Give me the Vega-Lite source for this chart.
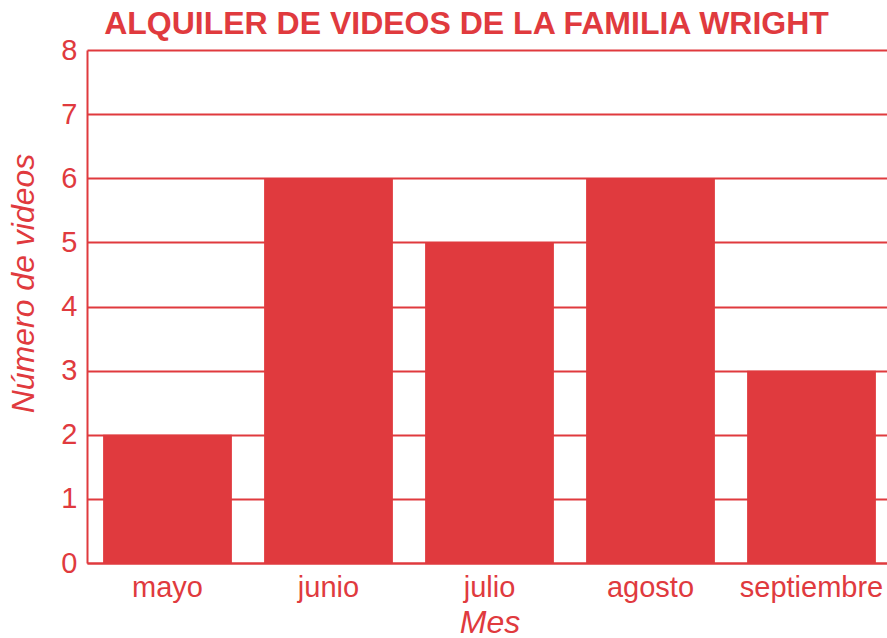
{
  "$schema": "https://vega.github.io/schema/vega-lite/v6.json",
  "autosize": {"type": "none"},
  "width": 805,
  "height": 513,
  "padding": {"left": 87, "top": 50, "right": 0, "bottom": 75},
  "background": "white",
  "title": {
    "text": "ALQUILER DE VIDEOS DE LA FAMILIA WRIGHT",
    "font": "Liberation Sans",
    "fontSize": 32,
    "fontWeight": "bold",
    "color": "#e03a3e",
    "anchor": "middle",
    "dx": -23,
    "offset": -5
  },
  "data": {
    "values": [
      {"mes": "mayo", "videos": 2},
      {"mes": "junio", "videos": 6},
      {"mes": "julio", "videos": 5},
      {"mes": "agosto", "videos": 6},
      {"mes": "septiembre", "videos": 3}
    ]
  },
  "mark": {"type": "bar", "color": "#e03a3e"},
  "encoding": {
    "x": {
      "field": "mes",
      "type": "nominal",
      "sort": null,
      "scale": {"paddingInner": 0.2, "paddingOuter": 0.1},
      "axis": {
        "title": "Mes",
        "titleFont": "Liberation Sans",
        "titleFontSize": 32,
        "titleFontStyle": "italic",
        "titleFontWeight": "normal",
        "titleColor": "#e03a3e",
        "titlePadding": 5,
        "labelFont": "Liberation Sans",
        "labelFontSize": 29,
        "labelColor": "#e03a3e",
        "labelAngle": 0,
        "labelPadding": 10,
        "ticks": false,
        "domainColor": "#e03a3e",
        "domainWidth": 2
      }
    },
    "y": {
      "field": "videos",
      "type": "quantitative",
      "scale": {"domain": [0, 8]},
      "axis": {
        "title": "Número de videos",
        "titleFont": "Liberation Sans",
        "titleFontSize": 32,
        "titleFontStyle": "italic",
        "titleFontWeight": "normal",
        "titleColor": "#e03a3e",
        "titleX": -64,
        "titleY": 233,
        "titleAlign": "center",
        "titleBaseline": "middle",
        "titleAngle": -90,
        "labelFont": "Liberation Sans",
        "labelFontSize": 29,
        "labelColor": "#e03a3e",
        "labelPadding": 10,
        "tickCount": 8,
        "ticks": false,
        "grid": true,
        "gridColor": "#e03a3e",
        "gridWidth": 2,
        "gridOpacity": 1,
        "domainColor": "#e03a3e",
        "domainWidth": 2
      }
    }
  },
  "config": {"view": {"stroke": null}}
}
